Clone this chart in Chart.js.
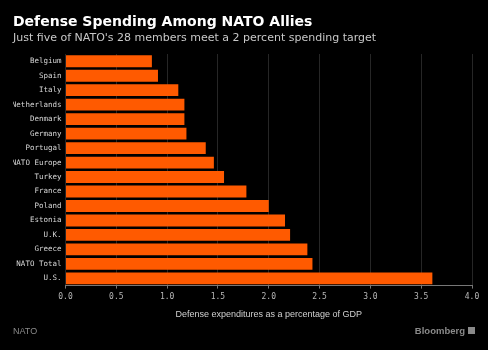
<!DOCTYPE html>
<html>
<head>
<meta charset="utf-8">
<script src="https://cdn.jsdelivr.net/npm/chart.js@4"></script>
<style>
  html, body { margin: 0; padding: 0; background: #000; }
  canvas { display: block; }
</style>
</head>
<body>
<canvas id="nato" width="488" height="350"></canvas>
<script>
var countries = ["Belgium", "Spain", "Italy", "Netherlands", "Denmark", "Germany", "Portugal", "NATO Europe", "Turkey", "France", "Poland", "Estonia", "U.K.", "Greece", "NATO Total", "U.S."];
var spending = [0.85, 0.91, 1.11, 1.17, 1.17, 1.19, 1.38, 1.46, 1.56, 1.78, 2.0, 2.16, 2.21, 2.38, 2.43, 3.61];
var xTicks = [0, 0.5, 1, 1.5, 2, 2.5, 3, 3.5, 4];

// footer texts (source + logo)
var footer = {
  id: 'footer',
  afterDraw: function(chart) {
    var c = chart.ctx;
    c.save();
    c.fillStyle = '#8a8a8a';
    c.font = '9px "Liberation Sans"';
    c.textBaseline = 'middle';
    c.textAlign = 'left';
    c.fillText('NATO', 13, 332);
    c.font = 'bold 9.5px "Liberation Sans"';
    c.textAlign = 'right';
    c.fillText('Bloomberg', 465, 331);
    c.fillRect(468, 327, 7, 7);
    c.restore();
  }
};

var ctx = document.getElementById('nato').getContext('2d');
var chart = new Chart(ctx, {
    type: 'bar',
    data: {
        labels: countries,
        datasets: [{
            label: "Defense spending",
            backgroundColor: '#ff5a00',
            data: spending,
            barPercentage: 0.82,
            categoryPercentage: 1.0
        }]
    },
    options: {
        indexAxis: 'y',
        responsive: false,
        animation: false,
        layout: { padding: { left: 13, right: 16, top: 8, bottom: 30 } },
        plugins: {
            legend: { display: false },
            tooltip: { enabled: false },
            title: {
                display: true,
                text: 'Defense Spending Among NATO Allies',
                align: 'start',
                color: '#ffffff',
                font: { family: 'DejaVu Sans', size: 14, weight: 'bold' },
                padding: { top: 6, bottom: 1 }
            },
            subtitle: {
                display: true,
                text: "Just five of NATO's 28 members meet a 2 percent spending target",
                align: 'start',
                color: '#c8c8c8',
                font: { family: 'DejaVu Sans', size: 11 },
                padding: { top: 0, bottom: 9 }
            }
        },
        scales: {
            x: {
                min: 0,
                max: 4,
                afterBuildTicks: function(axis) {
                    axis.ticks = xTicks.map(function(v) { return { value: v }; });
                },
                ticks: {
                    color: '#b8b8b8',
                    font: { family: 'DejaVu Sans Mono', size: 8 },
                    padding: 4,
                    callback: function(v) { return Number(v).toFixed(1); }
                },
                grid: { color: '#262626', tickColor: '#777', tickLength: 3 },
                border: { color: '#777' },
                title: {
                    display: true,
                    text: 'Defense expenditures as a percentage of GDP',
                    color: '#d0d0d0',
                    font: { family: 'Liberation Sans', size: 9 },
                    padding: { top: 3, bottom: 0 }
                }
            },
            y: {
                afterFit: function(axis) { axis.width = 52.5; },
                ticks: {
                    color: '#d8d8d8',
                    font: { family: 'DejaVu Sans Mono', size: 7.5 },
                    padding: 4
                },
                grid: { display: false, drawTicks: false },
                border: { display: false }
            }
        }
    },
    plugins: [footer]
});
</script>
</body>
</html>
